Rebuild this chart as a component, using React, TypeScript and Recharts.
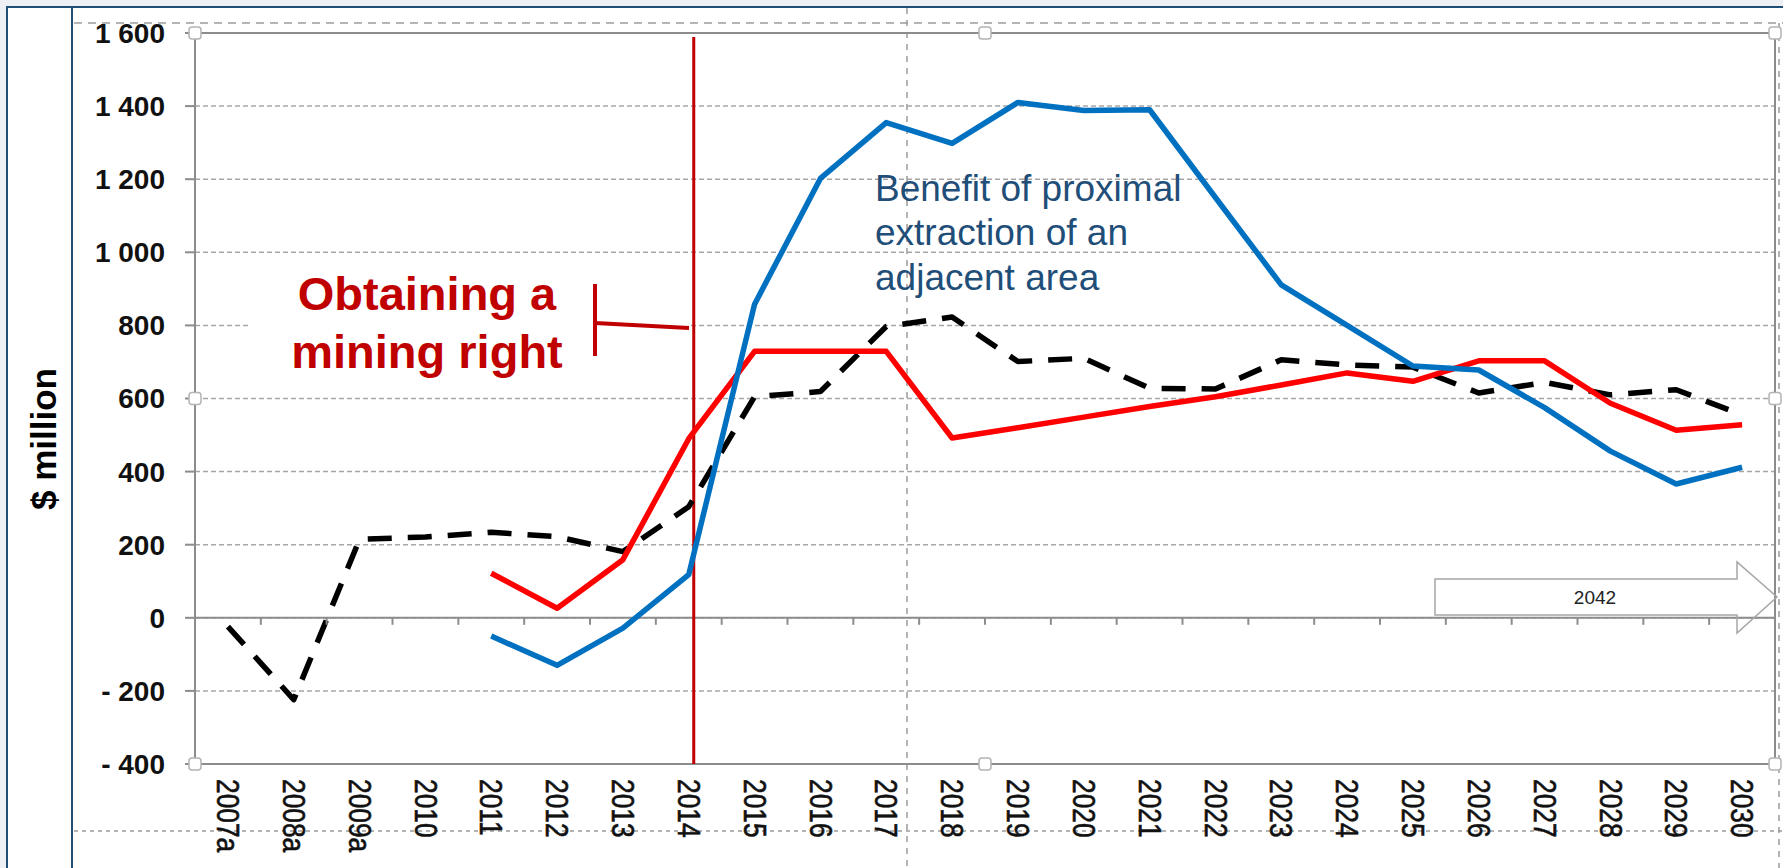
import { LineChart, Line, XAxis, YAxis, CartesianGrid, ReferenceLine } from "recharts";

// chart values ($ million)
const years = [
  "2007a", "2008a", "2009a", "2010", "2011", "2012", "2013", "2014", "2015", "2016", "2017", "2018",
  "2019", "2020", "2021", "2022", "2023", "2024", "2025", "2026", "2027", "2028", "2029", "2030",
];
const adjacentArea = [
  null, null, null, null, -50, -130, -28, 118, 858, 1202, 1355, 1298,
  1410, 1388, 1390, 1150, 911, 800, 689, 678, 575, 456, 366, 412,
];
const miningRight = [
  null, null, null, null, 122, 26, 159, 490, 729, 729, 729, 492,
  520, 549, 578, 605, 637, 670, 647, 703, 703, 587, 513, 528,
];
const baseCase = [
  -24, -224, 215, 221, 234, 222, 181, 304, 605, 619, 797, 823,
  701, 710, 628, 626, 706, 692, 686, 615, 644, 610, 624, 555,
];
const yTicks = [-400, -200, 0, 200, 400, 600, 800, 1000, 1200, 1400, 1600];

const data = years.map((year, i) => ({
  year,
  adjacent: adjacentArea[i],
  right: miningRight[i],
  base: baseCase[i],
}));

const W = 1783;
const H = 868;
const FONT = "'Liberation Sans', Arial, sans-serif";
const PLOT_LEFT = 195;
const PLOT_RIGHT = 1775;
const PLOT_TOP = 33;
const PLOT_BOTTOM = 764;
const Y_MIN = -400;
const Y_MAX = 1600;
const BAND = (PLOT_RIGHT - PLOT_LEFT) / years.length;
const Y_ZERO = PLOT_TOP + ((PLOT_BOTTOM - PLOT_TOP) * Y_MAX) / (Y_MAX - Y_MIN);
const AXIS_GREY = "#8c8c8c";

function formatY(v: number) {
  const a = Math.abs(v);
  let s = String(a);
  if (a >= 1000) s = `${Math.floor(a / 1000)} ${String(a % 1000).padStart(3, "0")}`;
  return v < 0 ? `- ${s}` : s;
}

function XTick(props: any) {
  const { x, payload } = props;
  return (
    <g>
      <line x1={x + BAND / 2} x2={x + BAND / 2} y1={Y_ZERO} y2={Y_ZERO + 7} stroke={AXIS_GREY} strokeWidth={2} />
      {/* the category labels are narrow and tall, so squeeze them along the reading direction */}
      <text
        transform={`translate(${x},${PLOT_BOTTOM + 15}) rotate(90) scale(0.85,1)`}
        textAnchor="start"
        dominantBaseline="central"
        fontSize={31}
        fontFamily={FONT}
        fill="#111"
        stroke="#111"
        strokeWidth={0.6}
      >
        {payload.value}
      </text>
    </g>
  );
}

function Handle({ x, y }: { x: number; y: number }) {
  return <rect x={x - 6} y={y - 6} width={12} height={12} rx={3} fill="#fff" stroke="#b4b4b4" strokeWidth={1.5} />;
}

export default function App() {
  const midX = (PLOT_LEFT + PLOT_RIGHT) / 2;
  const midY = (PLOT_TOP + PLOT_BOTTOM) / 2;
  return (
    <div style={{ position: "fixed", left: 0, top: 0, width: W, height: H, background: "#eff0f5", overflow: "hidden" }}>
      {/* slide panel and selection frame */}
      <svg width={W} height={H} style={{ position: "absolute", left: 0, top: 0 }}>
        <rect x={7} y={7} width={W} height={H} fill="#fff" stroke="#1f4e79" strokeWidth={2} />
        <line x1={72} y1={7} x2={72} y2={H} stroke="#1f4e79" strokeWidth={2} />
        <line x1={74} y1={23} x2={W} y2={23} stroke="#9a9a9a" strokeWidth={1.5} strokeDasharray="8 6" />
        <line x1={74} y1={831} x2={W} y2={831} stroke="#9a9a9a" strokeWidth={1.5} strokeDasharray="4 4" />
        <line x1={907} y1={8} x2={907} y2={H} stroke="#9a9a9a" strokeWidth={1.5} strokeDasharray="6 6" />
        <line x1={1779} y1={23} x2={1779} y2={H} stroke="#9a9a9a" strokeWidth={1.5} strokeDasharray="6 6" />
      </svg>

      <div style={{ position: "absolute", left: 0, top: 0 }}>
        <LineChart width={W} height={H} data={data} margin={{ top: PLOT_TOP, right: W - PLOT_RIGHT, bottom: 14, left: 0 }}>
          <CartesianGrid vertical={false} stroke="#a6a6a6" strokeWidth={1.5} strokeDasharray="5 3" />
          <XAxis
            dataKey="year"
            interval={0}
            height={H - PLOT_BOTTOM - 14}
            padding={{ left: BAND / 2, right: BAND / 2 }}
            axisLine={false}
            tickLine={false}
            tick={<XTick />}
          />
          <YAxis
            width={PLOT_LEFT}
            domain={[Y_MIN, Y_MAX]}
            ticks={yTicks}
            interval={0}
            tickFormatter={formatY}
            tickSize={10}
            tickMargin={20}
            axisLine={{ stroke: AXIS_GREY, strokeWidth: 2 }}
            tickLine={{ stroke: AXIS_GREY, strokeWidth: 2 }}
            tick={{ fontSize: 28, fontWeight: "bold", fill: "#111", fontFamily: FONT }}
          />
          <ReferenceLine y={Y_MAX} stroke={AXIS_GREY} strokeWidth={2} />
          <ReferenceLine y={Y_MIN} stroke={AXIS_GREY} strokeWidth={2} />
          <ReferenceLine y={0} stroke={AXIS_GREY} strokeWidth={2} />
          <ReferenceLine
            x="2014"
            shape={(p: any) => (
              <line
                x1={p.x1 + 5}
                x2={p.x2 + 5}
                y1={Math.min(p.y1, p.y2) + 4}
                y2={Math.max(p.y1, p.y2)}
                stroke="#c00000"
                strokeWidth={3}
              />
            )}
          />
          <Line
            dataKey="base"
            stroke="#000"
            strokeWidth={5.5}
            strokeDasharray="24 16"
            strokeLinejoin="round"
            dot={false}
            isAnimationActive={false}
          />
          <Line dataKey="right" stroke="#ff0000" strokeWidth={5.5} strokeLinejoin="round" dot={false} isAnimationActive={false} />
          <Line dataKey="adjacent" stroke="#0070c0" strokeWidth={5.5} strokeLinejoin="round" dot={false} isAnimationActive={false} />
        </LineChart>
      </div>

      {/* annotations */}
      <svg width={W} height={H} style={{ position: "absolute", left: 0, top: 0, pointerEvents: "none" }}>
        <line x1={PLOT_RIGHT} y1={PLOT_TOP} x2={PLOT_RIGHT} y2={PLOT_BOTTOM} stroke={AXIS_GREY} strokeWidth={2} />

        <rect x={251} y={262} width={437} height={126} fill="#fff" />
        <text x={427} y={310} textAnchor="middle" fontSize={47} fontWeight="bold" fontFamily={FONT} fill="#c00000">
          Obtaining a
        </text>
        <text x={427} y={368} textAnchor="middle" fontSize={47} fontWeight="bold" fontFamily={FONT} fill="#c00000">
          mining right
        </text>
        <line x1={595} y1={284} x2={595} y2={356} stroke="#c00000" strokeWidth={4} />
        <line x1={595} y1={323} x2={689} y2={328} stroke="#c00000" strokeWidth={4} />

        <g fontSize={37} fontFamily={FONT} fill="#1f4e79">
          <text x={875} y={201}>Benefit of proximal</text>
          <text x={875} y={245}>extraction of an</text>
          <text x={875} y={290}>adjacent area</text>
        </g>

        <polygon
          points="1435,579 1737,579 1737,562 1777,597 1737,633 1737,615 1435,615"
          fill="none"
          stroke="#a6a6a6"
          strokeWidth={1.5}
        />
        <text x={1595} y={597} textAnchor="middle" dominantBaseline="central" fontSize={19} fontFamily={FONT} fill="#222">
          2042
        </text>

        <text
          transform="translate(43,439) rotate(-90)"
          textAnchor="middle"
          dominantBaseline="central"
          fontSize={35}
          fontWeight="bold"
          fontFamily={FONT}
          fill="#000"
        >
          $ million
        </text>

        <Handle x={PLOT_LEFT} y={PLOT_TOP} />
        <Handle x={midX} y={PLOT_TOP} />
        <Handle x={PLOT_RIGHT} y={PLOT_TOP} />
        <Handle x={PLOT_LEFT} y={midY} />
        <Handle x={PLOT_RIGHT} y={midY} />
        <Handle x={PLOT_LEFT} y={PLOT_BOTTOM} />
        <Handle x={midX} y={PLOT_BOTTOM} />
        <Handle x={PLOT_RIGHT} y={PLOT_BOTTOM} />
      </svg>
    </div>
  );
}
